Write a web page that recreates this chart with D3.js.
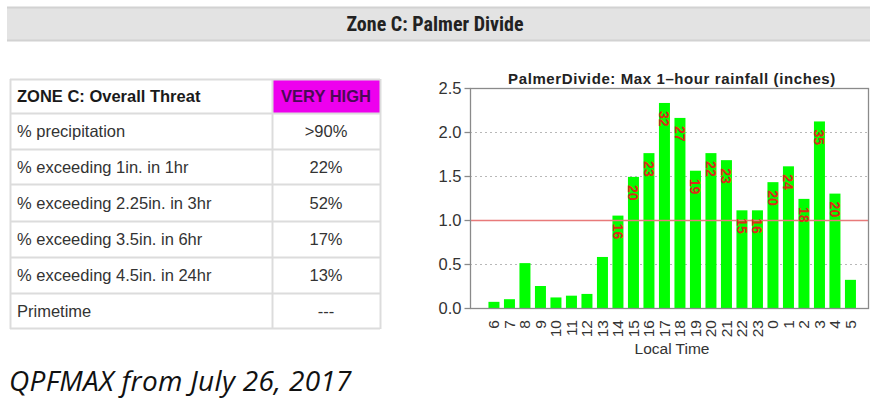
<!DOCTYPE html>
<html>
<head>
<meta charset="utf-8">
<script src="https://cdn.jsdelivr.net/npm/d3@7"></script>
<style>
  html, body { margin: 0; padding: 0; background: #fff; }
  svg { display: block; }
</style>
</head>
<body>
<svg id="chart" width="870" height="400"></svg>
<script>
// ---- data ----
const hours = ["6","7","8","9","10","11","12","13","14","15","16","17","18","19","20","21","22","23","0","1","2","3","4","5"];
const maxRain = [0.07,0.10,0.51,0.25,0.12,0.14,0.16,0.58,1.05,1.49,1.76,2.33,2.16,1.56,1.76,1.68,1.11,1.11,1.43,1.61,1.24,2.12,1.30,0.32];
const barLabels = ["","","","","","","","","16","20","23","32","27","19","22","23","15","16","20","24","18","35","20",""];
const yTicks = [0.0, 0.5, 1.0, 1.5, 2.0, 2.5];
const threshold = 1.0;
const tableLabels = ["ZONE C: Overall Threat","% precipitation","% exceeding 1in. in 1hr","% exceeding 2.25in. in 3hr","% exceeding 3.5in. in 6hr","% exceeding 4.5in. in 24hr","Primetime"];
const tableValues = ["VERY HIGH",">90%","22%","52%","17%","13%","---"];
const headerTitle = "Zone C: Palmer Divide";
const chartTitle = "PalmerDivide: Max 1\u2013hour rainfall (inches)";
const xTitle = "Local Time";
const caption = "QPFMAX from July 26, 2017";

const svg = d3.select("#chart");

// ---- header band ----
svg.append("rect").attr("x", 7).attr("y", 7).attr("width", 863).attr("height", 34)
  .attr("fill", "#e3e3e3");
svg.append("line").attr("x1", 7).attr("x2", 870).attr("y1", 7.5).attr("y2", 7.5)
  .attr("stroke", "#d2d2d2").attr("stroke-width", 2);
svg.append("line").attr("x1", 7).attr("x2", 870).attr("y1", 40.5).attr("y2", 40.5)
  .attr("stroke", "#d2d2d2").attr("stroke-width", 2);
svg.append("text").attr("x", 435).attr("y", 31).attr("text-anchor", "middle")
  .attr("font-family", "'Liberation Sans Narrow', 'Roboto Condensed', Arial, sans-serif")
  .attr("font-weight", "bold").attr("font-size", 20).attr("fill", "#222")
  .text(headerTitle);

// ---- table ----
const tX0 = 10, tX1 = 272, tX2 = 380;
const rowEdges = [79, 113, 149, 184, 221, 257, 293, 328];
const tbl = svg.append("g");
tbl.append("rect").attr("x", tX1).attr("y", rowEdges[0]).attr("width", tX2 - tX1).attr("height", rowEdges[1] - rowEdges[0])
  .attr("fill", "#ee00ee");
rowEdges.forEach(y => {
  tbl.append("line").attr("x1", tX0).attr("x2", tX2).attr("y1", y + 0.5).attr("y2", y + 0.5)
    .attr("stroke", "#dcdcdc").attr("stroke-width", 2);
});
[tX0, tX1, tX2].forEach(x => {
  tbl.append("line").attr("x1", x + 0.5).attr("x2", x + 0.5).attr("y1", rowEdges[0]).attr("y2", rowEdges[rowEdges.length - 1] + 1)
    .attr("stroke", "#dcdcdc").attr("stroke-width", 2);
});
tableLabels.forEach((t, i) => {
  const yc = (rowEdges[i] + rowEdges[i + 1]) / 2;
  tbl.append("text").attr("x", 17).attr("y", yc + 6)
    .attr("font-family", "Arial, 'Liberation Sans', sans-serif")
    .attr("font-size", 16.5).attr("font-weight", i === 0 ? "bold" : "normal")
    .attr("fill", i === 0 ? "#1a1a1a" : "#333").text(t);
  tbl.append("text").attr("x", (tX1 + tX2) / 2).attr("y", yc + 6).attr("text-anchor", "middle")
    .attr("font-family", "Arial, 'Liberation Sans', sans-serif")
    .attr("font-size", 16.5).attr("font-weight", i === 0 ? "bold" : "normal")
    .attr("fill", i === 0 ? "#4a0a55" : "#333").text(tableValues[i]);
});

// ---- bar chart ----
const plot = { left: 470, right: 868, top: 88, bottom: 308 };
const y = d3.scaleLinear().domain([0, 2.5]).range([plot.bottom, plot.top]);
const x = d3.scaleBand().domain(hours).range([486.2, 858.2]).paddingInner(0.29).paddingOuter(0.145);

const g = svg.append("g");
g.selectAll("line.grid").data(yTicks.filter(v => v > 0 && v < 2.5 && v !== threshold)).enter()
  .append("line").attr("class", "grid")
  .attr("x1", plot.left).attr("x2", plot.right)
  .attr("y1", d => y(d) + 0.5).attr("y2", d => y(d) + 0.5)
  .attr("stroke", "#b8b8b8").attr("stroke-width", 1.2).attr("stroke-dasharray", "2,3");

g.selectAll("rect.bar").data(hours).enter().append("rect").attr("class", "bar")
  .attr("x", d => x(d)).attr("width", x.bandwidth())
  .attr("y", (d, i) => y(maxRain[i])).attr("height", (d, i) => y(0) - y(maxRain[i]))
  .attr("fill", "#00ff00");

g.append("line").attr("x1", plot.left).attr("x2", plot.right)
  .attr("y1", y(threshold) + 0.5).attr("y2", y(threshold) + 0.5)
  .attr("stroke", "#e87a7a").attr("stroke-width", 1.3);

hours.forEach((h, i) => {
  if (!barLabels[i]) return;
  const cx = x(h) + x.bandwidth() / 2;
  const ty = y(maxRain[i]) + 8;
  g.append("text").attr("transform", `translate(${cx},${ty}) rotate(90)`)
    .attr("dy", "0.36em")
    .attr("font-family", "Arial, 'Liberation Sans', sans-serif").attr("font-weight", "bold")
    .attr("font-size", 14).attr("fill", "#dd2a18").text(barLabels[i]);
});

g.append("rect").attr("x", plot.left + 0.5).attr("y", plot.top + 0.5)
  .attr("width", plot.right - plot.left).attr("height", plot.bottom - plot.top)
  .attr("fill", "none").attr("stroke", "#8a8a8a").attr("stroke-width", 1.3);

const yAxis = d3.axisLeft(y).tickValues(yTicks).tickFormat(d3.format(".1f")).tickSize(6).tickPadding(3);
const ya = g.append("g").attr("transform", `translate(${plot.left + 0.5},0)`).call(yAxis);
ya.select(".domain").remove();
ya.selectAll("line").attr("stroke", "#8a8a8a").attr("stroke-width", 1.3);
ya.selectAll("text").attr("font-family", "Arial, 'Liberation Sans', sans-serif").attr("font-size", 16.5).attr("fill", "#333").attr("dy", "0.36em");

const xAxis = d3.axisBottom(x).tickSize(0).tickPadding(0);
const xa = g.append("g").attr("transform", `translate(0,${plot.bottom})`).call(xAxis);
xa.select(".domain").remove();
xa.selectAll("text")
  .attr("font-family", "Arial, 'Liberation Sans', sans-serif").attr("font-size", 15.5).attr("fill", "#333")
  .attr("text-anchor", "end").attr("dy", null).attr("y", 0)
  .attr("transform", "translate(5.5,12) rotate(-90)");

g.append("text").attr("x", 672).attr("y", 84).attr("text-anchor", "middle")
  .attr("font-family", "Arial, 'Liberation Sans', sans-serif").attr("font-weight", "bold")
  .attr("font-size", 15).attr("letter-spacing", 0.6).attr("fill", "#222").text(chartTitle);
g.append("text").attr("x", 672).attr("y", 354).attr("text-anchor", "middle")
  .attr("font-family", "Arial, 'Liberation Sans', sans-serif")
  .attr("font-size", 15.5).attr("fill", "#333").text(xTitle);

svg.append("text").attr("x", 9).attr("y", 391)
  .attr("font-family", "'Open Sans', sans-serif").attr("font-style", "italic")
  .attr("font-size", 28).attr("letter-spacing", 0.3).attr("fill", "#111").text(caption);
</script>
</body>
</html>
